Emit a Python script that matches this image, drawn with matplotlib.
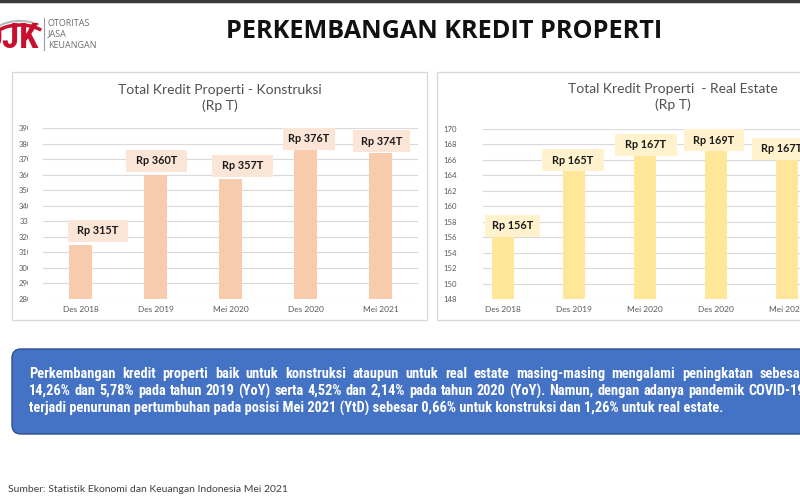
import matplotlib
matplotlib.use("Agg")
import matplotlib.pyplot as plt
import matplotlib.transforms as mtransforms
from matplotlib import font_manager
from matplotlib.patches import Rectangle, FancyBboxPatch, Arc
from matplotlib.transforms import Bbox, TransformedBbox

# data
periods = ["Des 2018", "Des 2019", "Mei 2020", "Des 2020", "Mei 2021"]
konstruksi = [315, 360, 357, 376, 374]
konstruksi_labels = ["Rp 315T", "Rp 360T", "Rp 357T", "Rp 376T", "Rp 374T"]
real_estate = [156.0, 164.7, 166.6, 167.3, 166.1]
real_estate_labels = ["Rp 156T", "Rp 165T", "Rp 167T", "Rp 169T", "Rp 167T"]
konstruksi_ticks = list(range(280, 391, 10))
real_estate_ticks = list(range(148, 171, 2))

title = "PERKEMBANGAN KREDIT PROPERTI"
left_title = "Total Kredit Properti - Konstruksi\n(Rp T)"
right_title = "Total Kredit Properti  - Real Estate\n(Rp T)"
body = [
    "Perkembangan kredit properti baik untuk konstruksi ataupun untuk real estate masing-masing mengalami peningkatan sebesar",
    "14,26% dan 5,78% pada tahun 2019 (YoY) serta 4,52% dan 2,14% pada tahun 2020 (YoY). Namun, dengan adanya pandemik COVID-19",
    "terjadi penurunan pertumbuhan pada posisi Mei 2021 (YtD) sebesar 0,66% untuk konstruksi dan 1,26% untuk real estate.",
]
source = "Sumber: Statistik Ekonomi dan Keuangan Indonesia Mei 2021"

W, H = 800, 500
GREY = "#595959"
fig = plt.figure(figsize=(8, 5), dpi=100)
fig.patch.set_facecolor("white")
renderer = fig.canvas.get_renderer()

# pick a narrow sans for the text box (Arial Narrow look)
fonts = font_manager.fontManager.ttflist
names = {f.name for f in fonts}
narrow = dict(family="Liberation Sans")
for cand in ["Liberation Sans Narrow", "Arial Narrow", "Roboto Condensed",
             "Open Sans Condensed", "Noto Sans Condensed"]:
    if cand in names:
        narrow = dict(family=cand)
        break
else:
    if any(f.name == "DejaVu Sans" and f.stretch == "condensed" for f in fonts):
        narrow = dict(family="DejaVu Sans", fontstretch="condensed")


def fx(px):
    return px / W


def fy(py):
    return 1 - py / H


def axes_px(l, t, r, b):
    return fig.add_axes([fx(l), fy(b), (r - l) / W, (b - t) / H])


def box_px(l, t, r, b, **kw):
    p = Rectangle((fx(l), fy(b)), (r - l) / W, (b - t) / H,
                  transform=fig.transFigure, zorder=-1, **kw)
    fig.patches.append(p)
    return p


def fit(t, width):
    # scale the font so the text spans the given pixel width
    w = t.get_window_extent(renderer).width
    t.set_fontsize(t.get_fontsize() * width / w)


# top strip + logo
fig.add_artist(plt.Line2D([0, 1], [fy(1), fy(1)], color="#3a3a3a", lw=2.5))
fig.patches.append(Arc((0.20, 5 - 0.40), 0.56, 0.30, theta1=25, theta2=160,
                       transform=fig.dpi_scale_trans, color="#c8102e", lw=2.5))
fig.patches.append(Arc((0.20, 5 - 0.36), 0.56, 0.30, theta1=30, theta2=155,
                       transform=fig.dpi_scale_trans, color="#b8b8b8", lw=1.5))
logo = fig.text(fx(39), fy(48), "OJK", ha="right", va="baseline", color="#c8102e",
                fontsize=25, fontweight="bold", **narrow)
fig.add_artist(plt.Line2D([fx(44), fx(44)], [fy(18), fy(50)], color="#9a9a9a", lw=0.8))
for k, word in enumerate(["OTORITAS", "JASA", "KEUANGAN"]):
    fig.text(fx(48), fy(23 + 11 * k), word, ha="left", va="center",
             color="#6d6d6d", fontsize=6.5, family="Open Sans")

t = fig.text(fx(444.5), fy(31), title, ha="center", va="center", fontsize=17,
             fontweight="bold", family="Open Sans", color="#111111")
fit(t, 437)

# panels
box_px(12, 72, 427, 320, fc="white", ec="#d9d9d9", lw=1)
box_px(437, 72, 830, 320, fc="white", ec="#d9d9d9", lw=1)


def chart(ax, values, labels, ticks, color, box_color, offsets, widths, ypad):
    x = list(range(len(values)))
    ax.set_facecolor("none")
    ax.bar(x, values, width=0.31, color=color, zorder=2)
    ax.set_yticks(ticks)
    ax.set_ylim(ticks[0], ticks[-1])
    ax.set_xticks(x, periods)
    ax.grid(axis="y", color="#d9d9d9", lw=0.8)
    ax.set_axisbelow(True)
    for s in ax.spines.values():
        s.set_visible(False)
    ax.tick_params(axis="both", length=0, colors=GREY)
    ax.tick_params(axis="x", pad=5, labelsize=6)
    ax.tick_params(axis="y", pad=ypad, labelsize=5.6)
    for lab in ax.get_xticklabels() + ax.get_yticklabels():
        lab.set_family("Lato")
    for i, (v, lab) in enumerate(zip(values, labels)):
        dx, dy = offsets[i]
        w = widths[i]
        tr = mtransforms.ScaledTranslation(i, v, ax.transData)
        ax.add_patch(Rectangle((dx - w / 2, dy - 11), w, 22, transform=tr,
                               fc=box_color, ec="none", zorder=3, clip_on=False))
        ax.annotate(lab, (i, v), xytext=(dx, dy), textcoords="offset pixels",
                    ha="center", va="center", fontsize=7.8, fontweight="bold",
                    family="Lato", color="#1a1a1a", zorder=4, annotation_clip=False)


ax1 = axes_px(43, 128, 418, 299)
chart(ax1, konstruksi, konstruksi_labels, konstruksi_ticks, "#f8cbad", "#fbe5d6",
      [(17, 14), (1, 14), (12, 13.5), (3, 11), (1, 11.5)],
      [60, 61, 61, 52, 57], 7.5)
ax1.set_xlim(-0.5, 4.5)
# the y labels are cut off in the slide, only two digits show
clip = TransformedBbox(Bbox.from_extents(fx(12), 0, fx(27.5), 1), fig.transFigure)
for lab in ax1.get_yticklabels():
    lab.set_clip_box(clip)
    lab.set_clip_on(True)
fig.text(fx(220), fy(98), left_title, ha="center", va="center", fontsize=10,
         family="Lato", color="#505050", linespacing=1.3)

ax2 = axes_px(483, 129, 830, 299)
chart(ax2, real_estate, real_estate_labels, real_estate_ticks, "#ffe699", "#fff2cc",
      [(9.5, 11.5), (-1, 9.5), (1, 10.5), (-2, 9.5), (-5, 10.5)],
      [55, 62, 62, 60, 60], 18.5)
ax2.set_xlim(-0.28, -0.28 + 347 / 71)
fig.text(fx(673), fy(97), right_title, ha="center", va="center", fontsize=10,
         family="Lato", color="#505050", linespacing=1.3)

# blue text box
fig.patches.append(FancyBboxPatch((12 / 100, (500 - 434) / 100), 820 / 100, 85 / 100,
                                  boxstyle="round,pad=0,rounding_size=0.09",
                                  transform=fig.dpi_scale_trans, fc="#4472c4",
                                  ec="#2f528f", lw=1, zorder=-1))

L, R = 29, 805
body_font = dict(fontsize=10, color="white", fontweight="bold", va="center", ha="left", **narrow)
last = fig.text(fx(L), fy(374 + 17 * 2), body[2], **body_font)
fit(last, 697)
body_font["fontsize"] = last.get_fontsize()
for k, line in enumerate(body[:2]):
    y = fy(374 + 17 * k)
    words = line.split()
    texts = [fig.text(0, y, w, **body_font) for w in words]
    widths = [tt.get_window_extent(renderer).width for tt in texts]
    gap = (R - L - sum(widths)) / (len(words) - 1)
    pos = L
    for tt, w in zip(texts, widths):
        tt.set_x(fx(pos))
        pos += w + gap

s = fig.text(fx(8), fy(489), source, ha="left", va="center", fontsize=7.5,
             family="Lato", color="#404040")
fit(s, 279)

fig.savefig("out.png", dpi=100)
